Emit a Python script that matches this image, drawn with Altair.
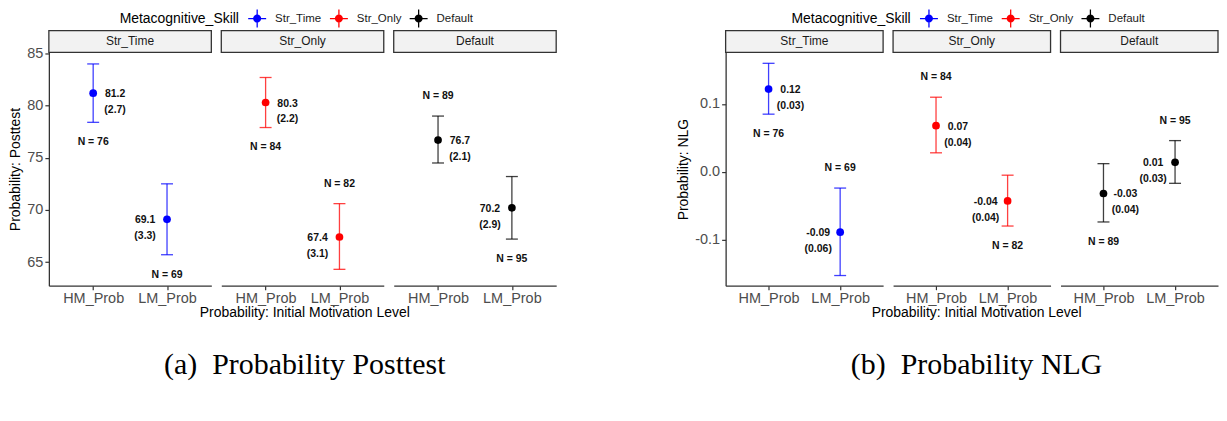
import altair as alt
import pandas as pd

FONT = "Liberation Sans, Arial, Helvetica, sans-serif"
SERIF = "Liberation Serif, Times New Roman, serif"

# ---------------- data ----------------
skills = ["Str_Time", "Str_Only", "Default"]
levels = ["HM_Prob", "LM_Prob"]
skill_colors = ["#0000FF", "#FF0000", "#000000"]

row_skill = ["Str_Time", "Str_Time", "Str_Only", "Str_Only", "Default", "Default"]
row_level = ["HM_Prob", "LM_Prob", "HM_Prob", "LM_Prob", "HM_Prob", "LM_Prob"]
n_count = [76, 69, 84, 82, 89, 95]

# (a) Probability Posttest
post_mean = [81.2, 69.1, 80.3, 67.4, 76.7, 70.2]
post_se = [2.7, 3.3, 2.2, 3.1, 2.1, 2.9]
post_lo = [78.4, 65.7, 77.9, 64.3, 74.5, 67.2]
post_hi = [84.0, 72.5, 82.7, 70.6, 79.0, 73.2]
post_npos = ["below", "below", "below", "above", "above", "below"]

# (b) Probability NLG
nlg_mean = [0.122, -0.089, 0.068, -0.043, -0.032, 0.014]
nlg_se = [0.03, 0.06, 0.04, 0.04, 0.04, 0.03]
nlg_lo = [0.085, -0.153, 0.028, -0.080, -0.074, -0.017]
nlg_hi = [0.160, -0.024, 0.110, -0.005, 0.012, 0.046]
nlg_npos = ["below", "above", "above", "below", "below", "above"]

post_ticks = [65, 70, 75, 80, 85]
nlg_ticks = [-0.1, 0.0, 0.1]


def build_df(mean, se, lo, hi, npos, digits):
    return pd.DataFrame({
        "skill": row_skill,
        "level": row_level,
        "mean": mean,
        "lo": lo,
        "hi": hi,
        "val_lbl": [f"{v:.{digits}f}" for v in mean],
        "se_lbl": [f"({s:.{digits}f})" for s in se],
        "n_lbl": [f"N = {n}" for n in n_count],
        "npos": npos,
    })


LEGEND_SYMBOL = ("M-1,-0.07H1V0.07H-1Z M-0.07,-1H0.07V1H-0.07Z "
                 "M0.45,0A0.45,0.45 0 1,1 -0.45,0A0.45,0.45 0 1,1 0.45,0Z")

STRIP_H = 22
PLOT_H = 234
XTITLE = "Probability: Initial Motivation Level"


def make_block(df, ydomain, yticks, ytitle, label_expr, caption, W, legend_x, legend_y, title_dx):
    color_scale = alt.Scale(domain=skills, range=skill_colors)
    yscale = alt.Scale(domain=ydomain, nice=False, zero=False)
    xscale = alt.Scale(type="point", domain=levels, padding=0.6)
    legend = alt.Legend(
        orient="none", legendX=legend_x, legendY=legend_y,
        direction="horizontal", titleOrient="left", title="Metacognitive_Skill",
        titleFont=FONT, titleFontSize=14, titleFontWeight="normal", titleColor="#000000",
        titleBaseline="middle", titlePadding=9,
        labelFont=FONT, labelFontSize=11.5, labelColor="#1a1a1a", labelOffset=9,
        symbolType=LEGEND_SYMBOL, symbolSize=324, symbolStrokeWidth=0,
        symbolOpacity=1, columnPadding=8,
    )
    panels = []
    for i, g in enumerate(skills):
        sub = df[df["skill"] == g]
        strip_data = alt.Data(values=[{"skill": g}])
        strip_box = alt.Chart(strip_data).mark_rect(
            fill="#F2F2F2", stroke="#333333", strokeWidth=1.3
        ).encode(
            x=alt.value(0), x2=alt.value(W), y=alt.value(-STRIP_H), y2=alt.value(0)
        )
        strip_txt = alt.Chart(strip_data).mark_text(
            font=FONT, fontSize=12, color="#1a1a1a", align="center", baseline="middle"
        ).encode(
            text="skill:N", x=alt.value(W / 2), y=alt.value(-STRIP_H / 2)
        )

        xaxis = alt.Axis(
            title=None, labelAngle=0, grid=False,
            labelFont=FONT, labelFontSize=14.5, labelColor="#4D4D4D", labelPadding=2,
            domainColor="#333333", domainWidth=1.3,
            tickColor="#333333", tickSize=4, tickWidth=1.2,
        )
        x = alt.X("level:N", scale=xscale, axis=xaxis, title=None)
        if i == 0:
            yaxis = alt.Axis(
                values=yticks, labelExpr=label_expr, grid=False,
                labelFont=FONT, labelFontSize=14.5, labelColor="#4D4D4D", labelPadding=2,
                titleFont=FONT, titleFontSize=14, titleFontWeight="normal", titleColor="#000000",
                titlePadding=4, domainColor="#333333", domainWidth=1.3,
                tickColor="#333333", tickSize=4, tickWidth=1.2,
            )
        else:
            yaxis = None

        def Y(field):
            return alt.Y(f"{field}:Q", scale=yscale, axis=yaxis, title=ytitle)

        base = alt.Chart(sub)
        rule = base.mark_rule(strokeWidth=1.3, opacity=0.75).encode(
            x=x, y=Y("lo"), y2="hi:Q",
            color=alt.Color("skill:N", scale=color_scale, legend=None))
        tick_lo = base.mark_tick(orient="horizontal", size=12, thickness=1.3, opacity=0.75).encode(
            x=x, y=Y("lo"), color=alt.Color("skill:N", scale=color_scale, legend=None))
        tick_hi = base.mark_tick(orient="horizontal", size=12, thickness=1.3, opacity=0.75).encode(
            x=x, y=Y("hi"), color=alt.Color("skill:N", scale=color_scale, legend=None))
        pts = base.mark_point(filled=True, size=60, opacity=1).encode(
            x=x, y=Y("mean"),
            color=alt.Color("skill:N", scale=color_scale, legend=legend if i == 0 else None))

        txt = dict(font=FONT, fontSize=10.5, fontWeight="bold", color="#111111",
                   align="center", baseline="middle")
        val_hm = base.transform_filter(alt.datum.level == "HM_Prob").mark_text(dx=22, dy=1, **txt).encode(
            x=x, y=Y("mean"), text="val_lbl:N")
        se_hm = base.transform_filter(alt.datum.level == "HM_Prob").mark_text(dx=22, dy=17, **txt).encode(
            x=x, y=Y("mean"), text="se_lbl:N")
        val_lm = base.transform_filter(alt.datum.level == "LM_Prob").mark_text(dx=-22, dy=1, **txt).encode(
            x=x, y=Y("mean"), text="val_lbl:N")
        se_lm = base.transform_filter(alt.datum.level == "LM_Prob").mark_text(dx=-22, dy=17, **txt).encode(
            x=x, y=Y("mean"), text="se_lbl:N")
        n_above = base.transform_filter(alt.datum.npos == "above").mark_text(dy=-20, **txt).encode(
            x=x, y=Y("hi"), text="n_lbl:N")
        n_below = base.transform_filter(alt.datum.npos == "below").mark_text(dy=20, **txt).encode(
            x=x, y=Y("lo"), text="n_lbl:N")

        plot = alt.layer(pts, rule, tick_lo, tick_hi, val_hm, se_hm, val_lm, se_lm,
                         n_above, n_below, strip_box, strip_txt).properties(width=W, height=PLOT_H)
        panels.append(plot)

    block = alt.concat(*panels, columns=3, spacing=8, align="each").properties(
        title=alt.TitleParams(
            XTITLE, subtitle=caption, orient="bottom", anchor="middle", dx=title_dx,
            font=FONT, fontSize=14, fontWeight="normal", color="#000000", offset=1,
            subtitleFont=SERIF, subtitleFontSize=30, subtitleColor="#000000",
            subtitlePadding=30,
        )
    )
    return block


post_df = build_df(post_mean, post_se, post_lo, post_hi, post_npos, 1)
nlg_df = build_df(nlg_mean, nlg_se, nlg_lo, nlg_hi, nlg_npos, 2)

left = make_block(
    post_df, [62.73, 85.1], post_ticks, "Probability: Posttest",
    "format(datum.value, 'd')",
    "\u00a0\u00a0\u00a0\u00a0(a)\u00a0\u00a0Probability Posttest", 163, 71, -43, 22,
)
right = make_block(
    nlg_df, [-0.168, 0.176], nlg_ticks, "Probability: NLG",
    "replace(format(datum.value, '.1f'), '\u2212', '-')",
    "(b)\u00a0\u00a0Probability NLG\u00a0", 158, 66, -43, 29,
)

chart = alt.concat(left, right, columns=2, spacing=120, align="each").resolve_scale(
    color="independent"
).resolve_legend(color="independent").properties(
    padding={"left": 0, "top": 1, "right": 0, "bottom": 0},
    background="white",
).configure_view(stroke=None)

chart.save("out.html", embed_options={"renderer": "svg", "actions": False})
